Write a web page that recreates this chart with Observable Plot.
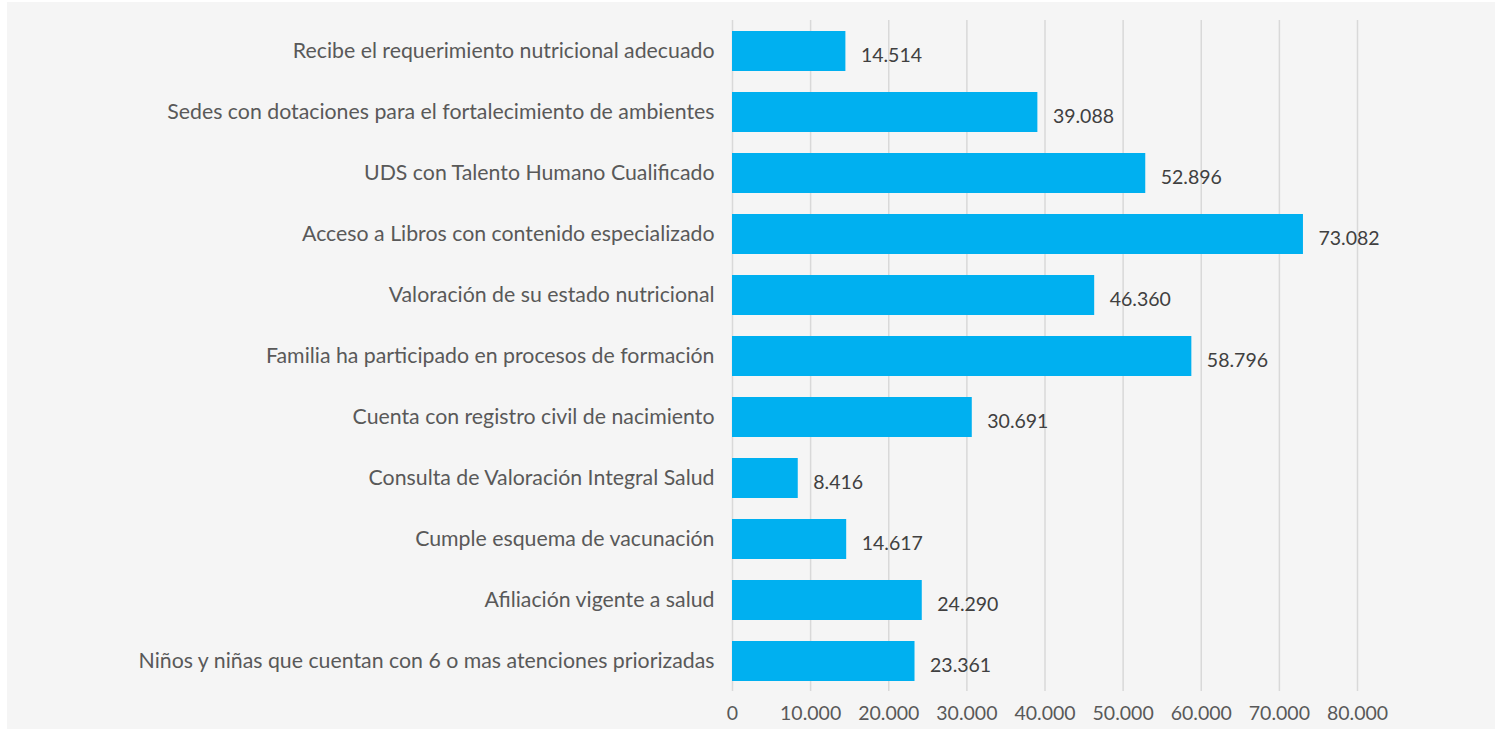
<!DOCTYPE html>
<html>
<head>
<meta charset="utf-8">
<script src="https://cdn.jsdelivr.net/npm/d3@7"></script>
<script src="https://cdn.jsdelivr.net/npm/@observablehq/plot@0.6"></script>
<style>
  html, body { margin: 0; padding: 0; background: #ffffff; }
  #wrap { padding: 2px 0 0 7px; }
  svg { background: #f5f5f5; display: block; }
</style>
</head>
<body>
<div id="wrap"></div>
<script>
const categories = [
  "Recibe el requerimiento nutricional adecuado",
  "Sedes con dotaciones para el fortalecimiento de ambientes",
  "UDS con Talento Humano Cualificado",
  "Acceso a Libros con contenido especializado",
  "Valoración de su estado nutricional",
  "Familia ha participado en procesos de formación",
  "Cuenta con registro civil de nacimiento",
  "Consulta de Valoración Integral Salud",
  "Cumple esquema de vacunación",
  "Afiliación vigente a salud",
  "Niños y niñas que cuentan con 6 o mas atenciones priorizadas"
];
const values = [14514, 39088, 52896, 73082, 46360, 58796, 30691, 8416, 14617, 24290, 23361];
const xTicks = [0, 10000, 20000, 30000, 40000, 50000, 60000, 70000, 80000];

const locale = d3.formatLocale({decimal: ",", thousands: ".", grouping: [3], currency: ["", ""]});
const fmt = locale.format(",d");

const data = categories.map((c, i) => ({category: c, value: values[i]}));

const chart = Plot.plot({
  width: 1488,
  height: 727,
  marginLeft: 725,
  marginRight: 138,
  marginTop: 18,
  marginBottom: 38,
  style: {fontFamily: "Lato, 'Open Sans', sans-serif", background: "#f5f5f5"},
  x: {domain: [0, 80000], ticks: xTicks, tickFormat: fmt, label: null},
  y: {domain: categories, paddingInner: 0.346, paddingOuter: 0.15, label: null},
  marks: [
    Plot.gridX(xTicks, {stroke: "#d9d9d9", strokeOpacity: 1, strokeWidth: 1.5}),
    Plot.barX(data, {x: "value", y: "category", fill: "#00b0f0"}),
    Plot.text(data, {x: "value", y: "category", text: d => fmt(d.value), textAnchor: "start", dx: 15, dy: 4, fill: "#404040", fontSize: 19.5}),
    Plot.axisX(xTicks, {tickSize: 0, tickPadding: 15, tickFormat: fmt, fontSize: 19.5, fill: "#595959", label: null}),
    Plot.axisY({tickSize: 0, tickPadding: 18, fontSize: 21.3, fill: "#595959", label: null})
  ]
});
document.getElementById("wrap").appendChild(chart);
</script>
</body>
</html>
